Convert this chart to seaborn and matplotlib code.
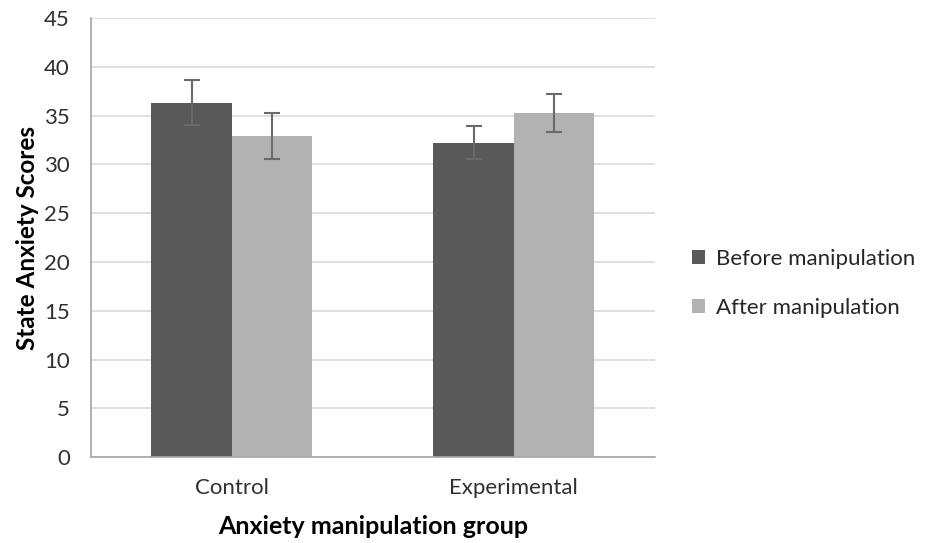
import matplotlib
matplotlib.use("Agg")
import matplotlib.pyplot as plt
import seaborn as sns
import pandas as pd

groups = ["Control", "Experimental"]
phases = ["Before manipulation", "After manipulation"]
before_means = [36.3, 32.2]
after_means = [32.9, 35.3]
before_err = [2.3, 1.7]
after_err = [2.4, 1.95]

df = pd.DataFrame({
    "group": groups * 2,
    "phase": [phases[0]] * 2 + [phases[1]] * 2,
    "score": before_means + after_means,
    "err": before_err + after_err,
})

sns.set_style("white")
plt.rcParams["font.family"] = ["Lato", "DejaVu Sans"]

fig = plt.figure(figsize=(9.25, 5.43), dpi=100)
ax = fig.add_axes([0.098, 0.158, 0.61, 0.809])

sns.barplot(data=df, x="group", y="score", hue="phase", hue_order=phases,
            palette=["#595959", "#b2b2b2"], width=0.57, errorbar=None,
            saturation=1, linewidth=0, ax=ax)

# error bars placed on the drawn bars
for cont, ph in zip(ax.containers, phases):
    sub = df[df["phase"] == ph]
    for rect, e in zip(cont, sub["err"]):
        cx = rect.get_x() + rect.get_width() / 2
        ax.errorbar(cx, rect.get_height(), yerr=e, color="#6a6a6a",
                    capsize=6, elinewidth=1.5, capthick=1.5, zorder=3)

ax.set_ylim(0, 45)
ax.set_yticks(range(0, 46, 5))
ax.set_xlim(-0.5, 1.5)
ax.yaxis.grid(True, color="#d9d9d9", linewidth=1.2)
ax.set_axisbelow(True)
for s in ["top", "right"]:
    ax.spines[s].set_visible(False)
for s in ["left", "bottom"]:
    ax.spines[s].set_color("#a6a6a6")
    ax.spines[s].set_linewidth(1.2)
ax.tick_params(axis="both", labelsize=16, colors="#303030", length=0)
ax.tick_params(axis="y", pad=15)
ax.tick_params(axis="x", pad=15)
ax.set_xlabel("Anxiety manipulation group", fontsize=18, fontweight="bold",
              color="black", labelpad=12)
ax.set_ylabel("State Anxiety Scores", fontsize=17.5, fontweight="bold",
              color="black", labelpad=4)

ax.legend(loc="center left", bbox_to_anchor=(1.03, 0.395), frameon=False,
          fontsize=16, handlelength=0.6, handleheight=0.6, labelspacing=1.3,
          handletextpad=0.5)

fig.savefig("out.png", dpi=100)
